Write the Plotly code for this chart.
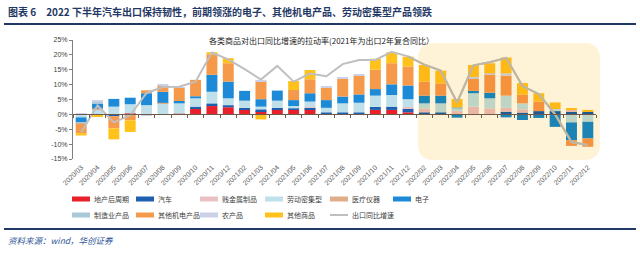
import plotly.graph_objects as go

# ---------------- data ----------------
categories = ['2020/03', '2020/04', '2020/05', '2020/06', '2020/07', '2020/08', '2020/09', '2020/10',
              '2020/11', '2020/12', '2021/02', '2021/03', '2021/04', '2021/05', '2021/06', '2021/07',
              '2021/08', '2021/09', '2021/10', '2021/11', '2021/12', '2022/02', '2022/03', '2022/04',
              '2022/05', '2022/06', '2022/07', '2022/08', '2022/09', '2022/10', '2022/11', '2022/12']

property_post = [0, 0, 0, 0.3, 0, 0, 0.2, 1.8, 2.8, 2.4, 1.7, 1.1, 1.8, 1.5, 1.8, 0,
                 0, 0, 1.5, 1.5, 0.7, 0, 0, 0, 0, 0, 0, 0, 0, 0, 0.3, 0.3]
autos = [0, 0, -0.6, 0, 0, 0, 0, 0.8, 0.9, 0.7, 0.5, 0.6, 0.4, 0.5, 0.4, 0.7,
         0.7, 0.7, 1.0, 1.1, 1.1, 0.7, 0.7, 0, 0, 0, 0.9, 0.6, 1.1, 1.1, 0.6, 0.6]
base_metal = [0, 0, 0, -0.3, 0, 0, 0, 0, 0, 0, 0, 0, 0, 0, 0.3, 0,
              0, 0, 0, 0, 0.7, 1.3, 0, 1.1, 2.6, 2.0, 1.3, 1.1, 0, 0, 0.6, 0]
labor = [-1.0, 1.8, 2.6, 3.1, 3.1, 3.7, 3.5, 2.8, 3.9, 2.3, 2.4, 0.9, 2.4, 0.8, 1.8, 1.5,
         3.0, 3.2, 3.8, 3.9, 2.6, 1.7, 3.0, 0.9, 4.5, 3.4, 4.1, 2.0, 0, 0.7, -2.7, -2.5]
medical = [0, 0.2, 0, 0, 0, 0.2, 0, 0, 0, 0, 0, 0, 0, 0, 0, 0,
           0, 0, 0, 0, 0, 0, 0, 0, 0, 0, 0, 0, 0, 0, 0, 0]
electronics = [-1.8, 1.8, 2.6, 2.2, 4.0, 3.7, 0.8, 0.7, 5.7, 5.6, 3.3, 2.5, 3.4, 2.0, 2.8, 2.6,
               2.3, 2.8, 2.2, 3.6, 4.6, 2.6, 2.6, -1.1, 0.8, 1.9, -1.0, -1.9, -1.2, -4.2, -6.0, -5.6]
manufacturing = [-0.3, 0.5, 0, 0, 0, 0, 0, 0, 0, 0, 0, 0, 0, 0, 0, 0,
                 0, 0, 0, 0, 0, 0, 0, 0.4, 0, 0, 0, 0, 0, 0, 0, 0]
mech_elec = [-3.2, 0, -4.1, -1.7, 1.0, 2.1, 4.5, 5.5, 6.9, 6.2, 0, 6.1, 0, 3.4, 4.7, 4.2,
             5.9, 6.3, 6.5, 7.1, 6.4, 4.7, 4.1, 0, 4.2, 6.0, 6.7, 2.9, 3.2, 0, -1.9, -2.8]
agri = [0.3, 0.3, 0, 0, -0.5, 0.2, 0.2, 0, 0, 0, 0, 0.4, 0, 0, 0, 0.3,
        0.6, 0.5, 0, 0, 0, 0, 0, 0, 0.5, 0.5, 0.8, 0, 0, 0, 0, 0]
other_goods = [-0.8, -0.9, -3.7, -3.9, 0, 0, 0, 0, 0.7, 1.7, 0, -1.7, 0, 3.0, 3.1, 0,
               0, 0, 3.7, 3.7, 3.3, 5.6, 4.3, 2.8, 4.0, 3.4, 5.3, 3.9, 2.8, 2.2, 0.6, 0.6]
export_growth = [-6.0, 3.0, -2.7, -0.3, 7.2, 9.2, 9.3, 11.0, 20.8, 18.5, 15.2, 11.7, 16.3, 11.0, 13.7, 12.8,
                 16.9, 18.3, 18.3, 21.0, 19.5, 16.7, 14.7, 4.0, 16.5, 17.5, 19.0, 9.5, 6.8, 0.0, -9.3, -10.3]

y_tick_values = [-15, -10, -5, 0, 5, 10, 15, 20, 25]
y_tick_labels = ['-15%', '-10%', '-5%', '0%', '5%', '10%', '15%', '20%', '25%']

series_names = ['地产后周期', '汽车', '贱金属制品', '劳动密集型', '医疗仪器', '电子',
                '制造业产品', '其他机电产品', '农产品', '其他商品']
series_values = [property_post, autos, base_metal, labor, medical, electronics,
                 manufacturing, mech_elec, agri, other_goods]
series_colors = ['#E8202A', '#1F5FAF', '#EBC0C3', '#BFE0EB', '#E0AD8A', '#1C8AD6',
                 '#A9C8D8', '#F5994A', '#CDD1E8', '#FFC21A']
line_name = '出口同比增速'
highlight_start = '2022/02'

# ---------------- styling helpers ----------------
W, H = 640, 253
L, R, T, B = 73, 44, 40, 94
PW, PH = W - L - R, H - T - B
CREAM = (254, 243, 214)


def px2x(px):
    return (px - L) / PW


def px2y(py):
    return (H - B - py) / PH


def mult(hexc):
    r, g, b = int(hexc[1:3], 16), int(hexc[3:5], 16), int(hexc[5:7], 16)
    return '#%02X%02X%02X' % (round(r * CREAM[0] / 255), round(g * CREAM[1] / 255), round(b * CREAM[2] / 255))


hi_idx = categories.index(highlight_start)
CJK = 'Noto Sans CJK SC'

fig = go.Figure()

for name, vals, col in zip(series_names, series_values, series_colors):
    cols = [col if i < hi_idx else mult(col) for i in range(len(categories))]
    fig.add_trace(go.Bar(x=categories, y=vals, name=name, marker=dict(color=cols, line=dict(width=0)),
                         showlegend=False))

fig.add_trace(go.Scatter(x=categories, y=export_growth, name=line_name, mode='lines',
                         line=dict(color='#BFBFBF', width=2), xaxis='x2', yaxis='y', showlegend=False))
fig.add_trace(go.Scatter(x=categories[hi_idx - 1:], y=export_growth[hi_idx - 1:], mode='lines',
                         line=dict(color=mult('#BFBFBF'), width=2), xaxis='x2', yaxis='y',
                         showlegend=False, hoverinfo='skip'))

shapes = []
# highlight rounded rectangle
x0p, x1p, y0p, y1p, rr = 418, 600, 43, 160, 16
path = (f"M {px2x(x0p + rr)},{px2y(y0p)} L {px2x(x1p - rr)},{px2y(y0p)} "
        f"Q {px2x(x1p)},{px2y(y0p)} {px2x(x1p)},{px2y(y0p + rr)} "
        f"L {px2x(x1p)},{px2y(y1p - rr)} Q {px2x(x1p)},{px2y(y1p)} {px2x(x1p - rr)},{px2y(y1p)} "
        f"L {px2x(x0p + rr)},{px2y(y1p)} Q {px2x(x0p)},{px2y(y1p)} {px2x(x0p)},{px2y(y1p - rr)} "
        f"L {px2x(x0p)},{px2y(y0p + rr)} Q {px2x(x0p)},{px2y(y0p)} {px2x(x0p + rr)},{px2y(y0p)} Z")
shapes.append(dict(type='path', path=path, xref='paper', yref='paper', fillcolor='rgb(254,243,214)',
                   line=dict(width=0), layer='below'))
# header / footer rules
shapes.append(dict(type='line', xref='paper', yref='paper', x0=px2x(4), x1=px2x(636), y0=px2y(24), y1=px2y(24),
                   line=dict(color='#1F3864', width=2)))
shapes.append(dict(type='line', xref='paper', yref='paper', x0=px2x(4), x1=px2x(636), y0=px2y(229), y1=px2y(229),
                   line=dict(color='#1F3864', width=2)))

annotations = []
annotations.append(dict(text='<b>图表 6　2022 下半年汽车出口保持韧性，前期领涨的电子、其他机电产品、劳动密集型产品领跌</b>',
                        xref='paper', yref='paper', x=px2x(6), y=px2y(12), xanchor='left', yanchor='middle',
                        showarrow=False, font=dict(family=CJK, size=10, color='#1F3864')))
annotations.append(dict(text='各类商品对出口同比增速的拉动率(2021年为出口2年复合同比）',
                        xref='paper', yref='paper', x=px2x(321), y=px2y(40), xanchor='center', yanchor='middle',
                        showarrow=False, font=dict(family=CJK, size=8, color='#1A1A1A')))
annotations.append(dict(text='<i>资料来源：wind，华创证券</i>',
                        xref='paper', yref='paper', x=px2x(6), y=px2y(240), xanchor='left', yanchor='middle',
                        showarrow=False, font=dict(family=CJK, size=8.5, color='#2F5597')))

# manual legend
col_x = [72, 136, 200, 265, 330, 393]
row_y = [199, 215]
legend_items = [(n, c, 'bar') for n, c in zip(series_names, series_colors)] + [(line_name, '#BFBFBF', 'line')]
for k, (n, c, kind) in enumerate(legend_items):
    r_, cc = divmod(k, 6)
    xs, yc = col_x[cc], row_y[r_]
    if kind == 'bar':
        shapes.append(dict(type='rect', xref='paper', yref='paper', x0=px2x(xs), x1=px2x(xs + 18),
                           y0=px2y(yc + 2.5), y1=px2y(yc - 2.5), fillcolor=c, line=dict(width=0)))
    else:
        shapes.append(dict(type='line', xref='paper', yref='paper', x0=px2x(xs), x1=px2x(xs + 18),
                           y0=px2y(yc), y1=px2y(yc), line=dict(color=c, width=2)))
    annotations.append(dict(text=n, xref='paper', yref='paper', x=px2x(xs + 20), y=px2y(yc),
                            xanchor='left', yanchor='middle', showarrow=False,
                            font=dict(family=CJK, size=7, color='#404040')))

fig.update_layout(
    width=W, height=H, margin=dict(l=L, r=R, t=T, b=B),
    paper_bgcolor='white', plot_bgcolor='rgba(0,0,0,0)',
    barmode='relative', bargap=0.33,
    showlegend=False,
    font=dict(family='Liberation Sans, ' + CJK, size=7, color='#404040'),
    xaxis=dict(type='category', categoryorder='array', categoryarray=categories,
               range=[-0.5, len(categories) - 0.5], showline=False, ticks='', showgrid=False,
               zeroline=False, tickangle=-45, tickfont=dict(size=7, color='#595959'), ticklabelstandoff=2),
    xaxis2=dict(type='category', categoryorder='array', categoryarray=categories, overlaying='x',
                anchor='free', position=15 / 40, range=[-0.5, len(categories) - 0.5],
                showline=True, linecolor='#6E5B4B', linewidth=1, ticks='outside', ticklen=3,
                tickcolor='#6E5B4B', tickson='boundaries', showticklabels=False, showgrid=False, zeroline=False),
    yaxis=dict(range=[-15, 25], tickmode='array', tickvals=y_tick_values, ticktext=y_tick_labels,
               showline=True, linecolor='#7F7F7F', linewidth=1, ticks='outside', ticklen=3,
               tickcolor='#7F7F7F', showgrid=False, zeroline=False, tickfont=dict(size=7, color='#404040')),
    shapes=shapes, annotations=annotations,
)

fig.write_html('out.html')
